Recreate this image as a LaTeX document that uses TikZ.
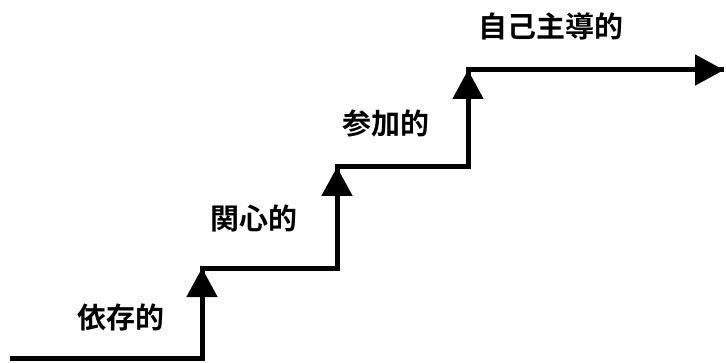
\documentclass[tikz,border=0pt]{standalone}
\usepackage{fontspec}
\newfontfamily\jpfont{Noto Sans CJK JP}[BoldFont={* Bold}]
\usetikzlibrary{arrows.meta}
\begin{document}
\begin{tikzpicture}[x=1pt,y=1pt,
  stair/.style={line width=5pt, line join=miter},
  up/.style={line width=5pt, -{Triangle[length=29pt,width=30pt]}},
  lbl/.style={font=\jpfont\fontsize{29}{29}\selectfont\bfseries, inner sep=0pt}]
\useasboundingbox (0,0) rectangle (726,362);
\coordinate (a) at (10,4);
\coordinate (b) at (202,4);
\coordinate (c) at (202,94);
\coordinate (d) at (337,94);
\coordinate (e) at (337,195);
\coordinate (f) at (468,195);
\coordinate (g) at (468,292);
\coordinate (h) at (724,292);
\draw[stair] (a) -- (b) -- (c) -- (d) -- (e) -- (f) -- (g) -- (h);
\draw[up] (b) -- (c);
\draw[up] (d) -- (e);
\draw[up] (f) -- (g);
\draw[up] (g) -- (h);
\node[lbl] (l1) at (121,45) {依存的};
\node[lbl] (l2) at (254,144) {関心的};
\node[lbl] (l3) at (386,238) {参加的};
\node[lbl] (l4) at (551,336) {自己主導的};
\end{tikzpicture}
\end{document}
